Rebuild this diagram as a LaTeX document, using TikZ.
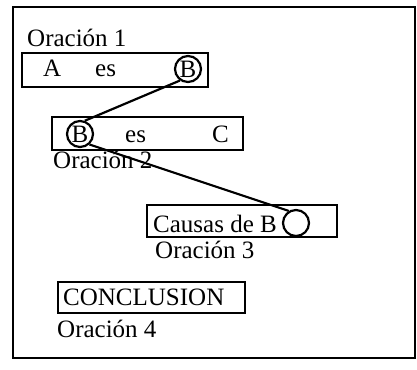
\documentclass[tikz,border=0pt]{standalone}
\usepackage{fontspec}
\setmainfont{Liberation Serif}
\begin{document}
\begin{tikzpicture}[x=1pt,y=-1pt,
  every node/.style={font=\fontsize{25}{28}\selectfont},
  lw/.style={line width=2.2pt},
  txt/.style={anchor=base west,inner sep=0pt},
  box/.style={draw,lw,rectangle,inner sep=0pt},
  ring/.style={draw,lw,circle,minimum size=26pt,inner sep=0pt}]
\useasboundingbox (0,0) rectangle (417,369);
\draw[lw] (13,7) rectangle (415,358);
% boxes
\node[box,minimum width=186pt,minimum height=34pt] (box1) at (115,70) {};
\node[box,minimum width=191pt,minimum height=33pt] (box2) at (147.5,133.5) {};
\node[box,minimum width=190pt,minimum height=32pt] (box3) at (242,221) {};
\node[box,minimum width=187pt,minimum height=31pt] (box4) at (151.5,297.5) {};
% texts
\node[txt] (o1) at (27,47) {Oración 1};
\node[txt] (a) at (43,76) {A};
\node[txt] (es1) at (95,76) {es};
\node[ring] (b1) at (188,69) {B};
\node[ring] (b2) at (80,134) {B};
\node[txt] (es2) at (125,142) {es};
\node[txt] (c) at (212,142) {C};
\node[txt] (o2) at (53,168) {Oración 2};
\node[txt] (causas) at (153,232) {Causas de B};
\node[ring] (c3) at (296,223) {};
\node[txt] (o3) at (155,258) {Oración 3};
\node[txt] (concl) at (63,305) {CONCLUSION};
\node[txt] (o4) at (57,337) {Oración 4};
% connectors
\draw[lw] (b1.235) -- (b2.70);
\draw[lw] (b2.-48) -- (c3.121);
\end{tikzpicture}
\end{document}
